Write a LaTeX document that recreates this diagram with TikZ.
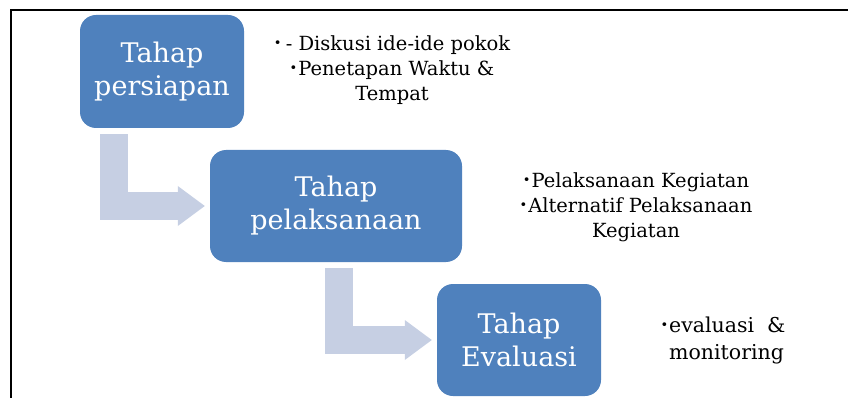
\documentclass[tikz,border=0pt]{standalone}
\usepackage{fontspec}
\setmainfont{DejaVu Serif}
\usetikzlibrary{arrows.meta}
\definecolor{kotakbiru}{HTML}{4F81BD}
\definecolor{panahbiru}{RGB}{198,207,227}
\newcommand{\titik}{\raisebox{0.25ex}{\fontsize{13}{13}\selectfont\textbullet}\kern1pt}

\begin{document}
\begin{tikzpicture}[x=1pt, y=-1pt,
  tahap/.style={fill=kotakbiru, rounded corners=16pt, text=white, align=center,
    font=\fontsize{27}{33}\selectfont, inner sep=0pt},
  poin/.style={align=center, font=\fontsize{19.5}{25}\selectfont, inner sep=0pt},
  panah/.style={draw=panahbiru, line width=28pt,
    -{Triangle[width=40pt, length=27pt, line width=0pt, fill=panahbiru]}}]
\useasboundingbox (0,0) rectangle (848,398);
\draw[line width=2.2pt] (11,398) -- (11,10) -- (848,10);
% kotak tahap
\node[tahap, minimum width=164, minimum height=113] (persiapan) at (162,71.5) {Tahap\\persiapan};
\node[tahap, minimum width=252, minimum height=112] (pelaksanaan) at (336,206) {Tahap\\pelaksanaan};
\node[tahap, minimum width=164, minimum height=112] (evaluasi) at (519,340) {Tahap\\Evaluasi};
% keterangan
\node[poin] (ket1) at (392,70) {\titik\,- Diskusi ide-ide pokok\\ \titik Penetapan Waktu \&\\Tempat};
\node[poin] (ket2) at (636,207) {\titik Pelaksanaan Kegiatan\\ \titik Alternatif Pelaksanaan\\Kegiatan};
\node[poin, align=left, font=\fontsize{20.5}{27}\selectfont] (ket3) at (723,340) {\titik evaluasi~~\&\\ \phantom{\titik}monitoring};
% panah
\draw[panah] ([xshift=-48pt,yshift=-6pt]persiapan.south) |- ([xshift=-5pt]pelaksanaan.west);
\draw[panah] ([xshift=3pt,yshift=-6pt]pelaksanaan.south) |- ([xshift=-5pt]evaluasi.west);
\end{tikzpicture}
\end{document}
